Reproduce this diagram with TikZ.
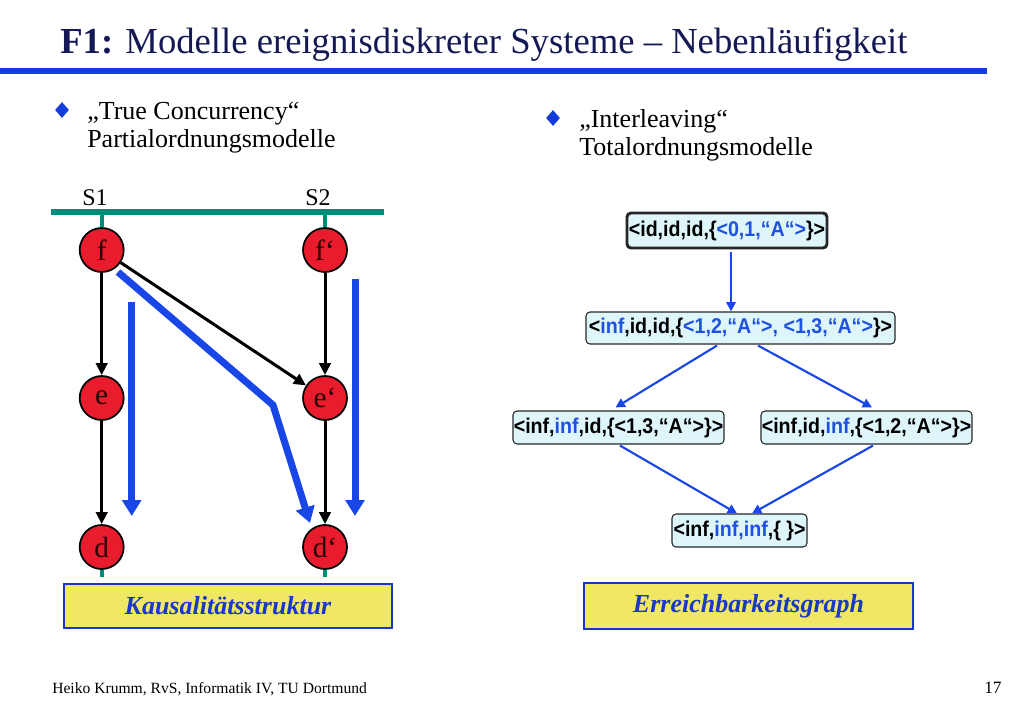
\documentclass[tikz,border=0pt]{standalone}
\usepackage{fontspec}
\usepackage{graphicx}
\setmainfont{Liberation Serif}
\newfontfamily\boxfont{Liberation Sans}
\usetikzlibrary{arrows.meta,shapes.geometric,calc}
\newcommand\gtxt[1]{\scalebox{0.92}[1]{#1}}
\definecolor{titlecol}{RGB}{20,25,85}
\definecolor{lineblue}{RGB}{20,60,220}
\definecolor{tealcol}{RGB}{0,140,120}
\definecolor{evred}{RGB}{232,28,45}
\definecolor{evtext}{RGB}{40,0,0}
\definecolor{arrblue}{RGB}{25,70,230}
\definecolor{boxyellow}{RGB}{240,232,100}
\definecolor{boxcyan}{RGB}{222,245,250}
\definecolor{txtblue}{RGB}{30,80,225}
\definecolor{lblue}{RGB}{25,55,200}
\begin{document}
\begin{tikzpicture}[x=0.75pt,y=-0.75pt,
  txt/.style={anchor=base west,inner sep=0pt},
  bultext/.style={txt,font=\fontsize{19.5pt}{22pt}\selectfont},
  bulletd/.style={diamond,fill=lineblue,inner sep=0pt,minimum width=10.5pt,minimum height=12pt},
  evnode/.style={circle,draw=black,line width=1.3pt,fill=evred,minimum size=33pt,inner sep=0pt,
    text=evtext,font=\fontsize{22pt}{22pt}\selectfont},
  tealline/.style={draw=tealcol,line width=3pt},
  blk/.style={draw=black,line width=2.25pt,-{Triangle[length=9pt,width=8.5pt]}},
  bth/.style={draw=arrblue,line width=5.25pt,-{Triangle[length=12pt,width=14pt]}},
  gnode/.style={draw=black!85,line width=0.8pt,rounded corners=3pt,fill=boxcyan,inner sep=0pt,
    font=\boxfont\bfseries\fontsize{16pt}{17pt}\selectfont},
  gar/.style={draw=arrblue,line width=1.6pt,-{Triangle[length=7pt,width=7pt]}},
  lbox/.style={draw=lblue,line width=2.2pt,fill=boxyellow,inner sep=0pt,text=lblue,
    font=\bfseries\itshape\fontsize{19.5pt}{20pt}\selectfont}
]
\useasboundingbox (0,0) rectangle (1023,708);

% title
\node[txt,text=titlecol,font=\fontsize{27.5pt}{32pt}\selectfont] (title) at (60,53)
  {\textbf{F1:} Modelle ereignisdiskreter Systeme – Nebenläufigkeit};
\coordinate (hl0) at (0,71);
\coordinate (hl1) at (987,71);
\draw[draw=lineblue,line width=3.8pt] (hl0) -- (hl1);

% bullets
\node[bulletd] (b1) at (62,110) {};
\node[bultext] (b1a) at (87,119) {„True Concurrency“};
\node[bultext] (b1b) at (87,147) {Partialordnungsmodelle};
\node[bulletd] (b2) at (553,118) {};
\node[bultext] (b2a) at (579,127) {„Interleaving“};
\node[bultext] (b2b) at (579,155) {Totalordnungsmodelle};

% left diagram
\node[anchor=base,inner sep=0pt,font=\fontsize{18pt}{20pt}\selectfont] (S1) at (95,205) {S1};
\node[anchor=base,inner sep=0pt,font=\fontsize{18pt}{20pt}\selectfont] (S2) at (318,205) {S2};
\coordinate (tl0) at (50.7,212);
\coordinate (tl1) at (384,212);
\coordinate (s1top) at (101.7,212);
\coordinate (s2top) at (325,212);
\coordinate (s1bot) at (101.7,577);
\coordinate (s2bot) at (325,577);

\node[evnode] (f)  at (101.7,250) {f};
\node[evnode] (fp) at (325,250) {f‘};
\node[evnode] (e)  at (101.7,398) {e};
\node[evnode] (ep) at (325,398) {e‘};
\node[evnode] (d)  at (101.7,547) {d};
\node[evnode] (dp) at (325,547) {d‘};

\draw[tealline,line width=4pt] (tl0) -- (tl1);
\draw[tealline] (s1top) -- (f.north);
\draw[tealline] (s2top) -- (fp.north);
\draw[tealline] (d.south) -- (s1bot);
\draw[tealline] (dp.south) -- (s2bot);

\draw[blk] (f) -- (e);
\draw[blk] (e) -- (d);
\draw[blk] (fp) -- (ep);
\draw[blk] (ep) -- (dp);
\draw[blk] (f) -- (ep);

\coordinate (bl0) at (131.7,302);
\coordinate (bl1) at (131.7,516);
\coordinate (br0) at (355,279);
\coordinate (br1) at (355,516);
\coordinate (bd0) at (118,272);
\coordinate (bd1) at (273,405);
\coordinate (bd2) at (310,523);
\draw[bth] (bl0) -- (bl1);
\draw[bth] (br0) -- (br1);
\draw[bth] (bd0) -- (bd1) -- (bd2);

\node[lbox,minimum width=246pt,minimum height=33pt] (kaus) at (228,606) {Kausalitätsstruktur};

% right graph
\node[gnode,line width=2.2pt,minimum width=150pt,minimum height=26.25pt] (n0) at (727,230.5)
  {\gtxt{<id,id,id,\{\textcolor{txtblue}{<0,1,“A“>}\}>}};
\node[gnode,minimum width=231.75pt,minimum height=24pt] (n1) at (740.5,328)
  {\gtxt{<\textcolor{txtblue}{inf},id,id,\{\textcolor{txtblue}{<1,2,“A“>, <1,3,“A“>}\}>}};
\node[gnode,minimum width=158.25pt,minimum height=24.75pt] (n2) at (618.5,427.5)
  {\gtxt{<inf,\textcolor{txtblue}{inf},id,\{<1,3,“A“>\}>}};
\node[gnode,minimum width=158.25pt,minimum height=24.75pt] (n3) at (866.5,427.5)
  {\gtxt{<inf,id,\textcolor{txtblue}{inf},\{<1,2,“A“>\}>}};
\node[gnode,minimum width=101.25pt,minimum height=24.75pt] (n4) at (739.5,530.5)
  {\gtxt{<inf,\textcolor{txtblue}{inf,inf},\{ \}>}};

\draw[gar] ($(n0.south)+(4,3)$) -- ($(n1.north)+(-9.5,0)$);
\draw[gar] ($(n1.south)+(-23.5,1)$) -- ($(n2.north)+(-3,-3)$);
\draw[gar] ($(n1.south)+(17.5,1)$) -- ($(n3.north)+(5.5,-3)$);
\draw[gar] ($(n2.south)+(1.5,1)$) -- ($(n4.north)+(-2.5,0)$);
\draw[gar] ($(n3.south)+(6.5,1)$) -- ($(n4.north)+(12.5,0)$);

\node[lbox,minimum width=246.75pt,minimum height=34.5pt] (erg) at (748.5,606) {Erreichbarkeitsgraph};

% footer
\node[txt,font=\fontsize{11.7pt}{13pt}\selectfont] (foot) at (52,693) {Heiko Krumm, RvS, Informatik IV, TU Dortmund};
\node[txt,font=\fontsize{13pt}{15pt}\selectfont] (pg) at (984,693) {17};
\end{tikzpicture}
\end{document}
